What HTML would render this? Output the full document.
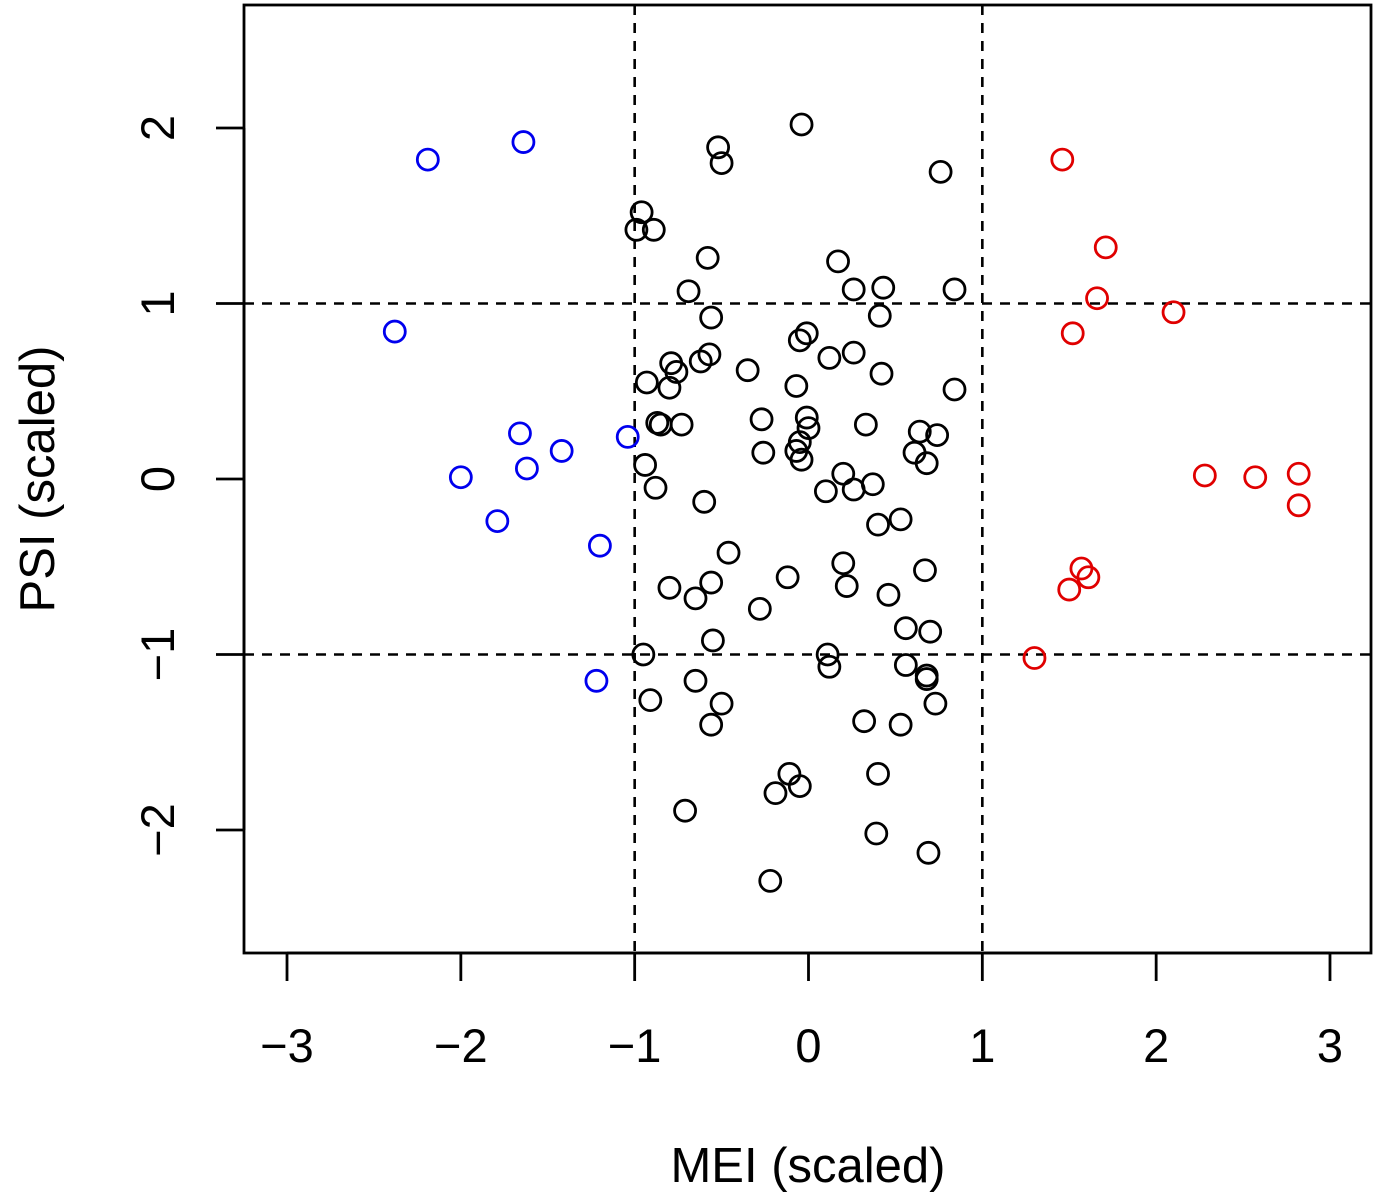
<!DOCTYPE html>
<html><head><meta charset="utf-8"><style>
html,body{margin:0;padding:0;background:#fff}
svg text{font-family:"Liberation Sans",sans-serif;fill:#000}
</style></head><body>
<svg id="chart" width="1378" height="1194" xmlns="http://www.w3.org/2000/svg">
<rect x="244" y="5" width="1127" height="948" fill="none" stroke="#000" stroke-width="2.8"/>
<g id="grid"></g><g id="axes"></g><g id="points"></g>
<text x="808" y="1182" font-size="49" text-anchor="middle">MEI (scaled)</text>
<text transform="translate(54,479) rotate(-90)" font-size="49" text-anchor="middle">PSI (scaled)</text>
</svg>
<script>
const blueX=[-2.19,-1.64,-2.38,-1.66,-1.42,-1.62,-2.00,-1.79,-1.04,-1.20,-1.22];
const blueY=[1.82,1.92,0.84,0.26,0.16,0.06,0.01,-0.24,0.24,-0.38,-1.15];
const redX=[1.46,1.71,1.66,2.10,1.52,2.28,2.57,2.82,2.82,1.57,1.61,1.50,1.30];
const redY=[1.82,1.32,1.03,0.95,0.83,0.02,0.01,0.03,-0.15,-0.51,-0.56,-0.63,-1.02];
const blackX=[-0.04,-0.52,-0.50,0.76,-0.96,-0.99,-0.89,-0.58,0.17,-0.69,0.26,0.43,0.84,-0.56,0.41,-0.01,-0.05,-0.57,0.12,0.26,-0.62,-0.79,-0.76,-0.35,0.42,-0.93,-0.80,-0.07,0.84,-0.27,-0.01,-0.87,-0.85,-0.73,0.33,0.00,0.64,0.74,-0.05,-0.07,-0.26,0.61,-0.04,-0.94,0.68,0.20,-0.88,0.10,0.26,0.37,-0.60,0.40,0.53,-0.46,0.20,-0.12,-0.56,0.67,-0.80,0.22,-0.65,0.46,-0.28,0.56,0.70,-0.55,-0.95,0.11,0.12,0.56,0.68,0.68,-0.65,-0.91,-0.50,0.73,-0.56,0.32,0.53,-0.11,0.40,-0.05,-0.19,-0.71,0.39,0.69,-0.22];
const blackY=[2.02,1.89,1.80,1.75,1.52,1.42,1.42,1.26,1.24,1.07,1.08,1.09,1.08,0.92,0.93,0.83,0.79,0.71,0.69,0.72,0.67,0.66,0.61,0.62,0.60,0.55,0.52,0.53,0.51,0.34,0.35,0.32,0.31,0.31,0.31,0.29,0.27,0.25,0.21,0.16,0.15,0.15,0.11,0.08,0.09,0.03,-0.05,-0.07,-0.06,-0.03,-0.13,-0.26,-0.23,-0.42,-0.48,-0.56,-0.59,-0.52,-0.62,-0.61,-0.68,-0.66,-0.74,-0.85,-0.87,-0.92,-1.00,-1.00,-1.07,-1.06,-1.12,-1.14,-1.15,-1.26,-1.28,-1.28,-1.40,-1.38,-1.40,-1.68,-1.68,-1.75,-1.79,-1.89,-2.02,-2.13,-2.29];
const xTicks=[-3,-2,-1,0,1,2,3];
const yTicks=[-2,-1,0,1,2];
const xTickLabels=["\u22123","\u22122","\u22121","0","1","2","3"];
const yTickLabels=["\u22122","\u22121","0","1","2"];
const refLines=[-1,1];

const NS="http://www.w3.org/2000/svg";
const sx=v=>808.5+v*173.83, sy=v=>479-v*175.5;
function mk(tag,attrs,parent){const e=document.createElementNS(NS,tag);for(const k in attrs)e.setAttribute(k,attrs[k]);parent.appendChild(e);return e;}
const grid=document.getElementById('grid'),axes=document.getElementById('axes'),pts=document.getElementById('points');
refLines.forEach(v=>{
 let l=mk('line',{x1:sx(v),x2:sx(v),y1:5,y2:953,stroke:'#000','stroke-width':2.6,'stroke-dasharray':'10,8'},grid);
 
 
 let h=mk('line',{x1:244,x2:1371,y1:sy(v),y2:sy(v),stroke:'#000','stroke-width':2.6,'stroke-dasharray':'10,8'},grid);
 
 
});
mk('line',{x1:sx(-3),x2:sx(3),y1:953,y2:953,stroke:'#000','stroke-width':2.8},axes);
xTicks.forEach((v,i)=>{
 mk('line',{x1:sx(v),x2:sx(v),y1:953,y2:981,stroke:'#000','stroke-width':2.8},axes);
 let t=mk('text',{x:sx(v),y:1062,'font-size':47,'text-anchor':'middle'},axes);t.textContent=xTickLabels[i];
 
 
});
mk('line',{x1:244,x2:244,y1:sy(2),y2:sy(-2),stroke:'#000','stroke-width':2.8},axes);
yTicks.forEach((v,i)=>{
 mk('line',{x1:216,x2:244,y1:sy(v),y2:sy(v),stroke:'#000','stroke-width':2.8},axes);
 let t=mk('text',{transform:`translate(174,${sy(v)}) rotate(-90)`,'font-size':47,'text-anchor':'middle'},axes);t.textContent=yTickLabels[i];
 
 
});
function series(X,Y,col,name){X.forEach((x,i)=>{
 let c=mk('circle',{cx:sx(x),cy:sy(Y[i]),r:10.5,fill:'none',stroke:col,'stroke-width':2.8},pts);
 
 
});}
series(blackX,blackY,'#000','point-neutral');
series(blueX,blueY,'#0000ee','point-la-nina');
series(redX,redY,'#e00000','point-el-nino');
</script>
</body></html>
